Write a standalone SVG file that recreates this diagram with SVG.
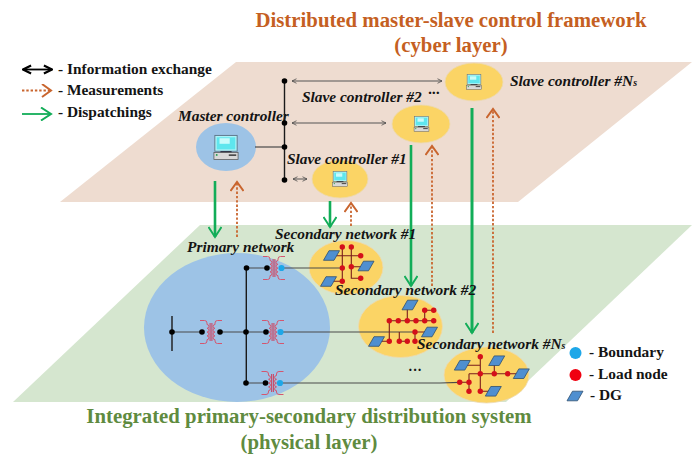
<svg xmlns="http://www.w3.org/2000/svg" width="692" height="455" viewBox="0 0 692 455">
<style>
text{font-family:"Liberation Serif","Times New Roman",serif;font-weight:bold;fill:#141414}
.t1{font-size:20.8px;fill:#c55f22;text-anchor:middle}
.t2{font-size:20.8px;fill:#5f8b3f;text-anchor:middle}
.lg{font-size:15.4px}
.it{font-size:15.4px;font-style:italic}
.wire{stroke:#4a4a4a;stroke-width:1.2;fill:none}
.thin{stroke:#555;stroke-width:1;fill:none}
.bus{stroke:#1a1a1a;stroke-width:1.4;fill:none}
.sw{stroke:#7a1c1c;stroke-width:1.1;fill:none}
.green{stroke:#12ad58;stroke-width:2.6;fill:none;marker-end:url(#ag)}
.orange{stroke:#c9652e;stroke-width:1.8;stroke-dasharray:2.4 1.9;fill:none;marker-end:url(#ao)}
.bd{fill:#000}
.rd{fill:#d4101a}
.bl{fill:#1ea7e8}
.dg{fill:#4f8fd0;stroke:#2f4f70;stroke-width:.8}
.sl{fill:#fbd465;stroke:#ecd9b0;stroke-width:.8}
.tr{stroke:#d4566f;stroke-width:1;fill:none}
.rd circle{r:2.700px}
</style>
<defs>
<marker id="ag" viewBox="0 0 14 14" refX="12" refY="7" markerWidth="14" markerHeight="14" markerUnits="userSpaceOnUse" orient="auto"><path d="M2 .5 12 7 2 13.5" fill="none" stroke="#12ad58" stroke-width="2"/></marker>
<marker id="ao" viewBox="0 0 14 14" refX="12" refY="7" markerWidth="14" markerHeight="14" markerUnits="userSpaceOnUse" orient="auto"><path d="M3 .5 12 7 3 13.5" fill="none" stroke="#c9652e" stroke-width="2"/></marker>
<marker id="ak" viewBox="0 0 8 8" refX="7" refY="4" markerWidth="6" markerHeight="6" orient="auto-start-reverse"><path d="M1 1 7 4 1 7" fill="none" stroke="#000" stroke-width="1.6"/></marker>
<marker id="at" viewBox="0 0 8 8" refX="7" refY="4" markerWidth="6" markerHeight="6" orient="auto-start-reverse"><path d="M1 1 7 4 1 7" fill="none" stroke="#444" stroke-width="1"/></marker>
<symbol id="pc" viewBox="0 0 28 26" overflow="visible">
<rect x="2" y="0" width="24" height="17" fill="#aef3f7" stroke="#5d7488" stroke-width="1"/>
<rect x="4" y="2" width="20" height="13" fill="#5fe6ee"/>
<rect x="7" y="3" width="11" height="6" fill="#c9fbfb"/>
<rect x="8" y="17" width="12" height="1.6" fill="#223"/>
<rect x="1" y="18.500" width="26" height="7.500" fill="#d8d8d8" stroke="#555" stroke-width=".8"/>
<circle cx="4" cy="21" r="1" fill="#1a9a4a"/>
<rect x="17" y="20.500" width="8" height="1.400" fill="#222"/>
</symbol>
<g id="trf">
<path d="M-.9 -9V9M.9 -9V9" stroke="#c94a68" stroke-width="1.100" fill="none"/>
<path class="tr" d="M-11 -11.500H-6.500Q-4 -11.500 -4 -9V-7.500a1.900 1.900 0 0 1 0 3.800a1.900 1.900 0 0 1 0 3.800a1.900 1.900 0 0 1 0 3.800a1.900 1.900 0 0 1 0 3.800V9Q-4 11.500 -6.500 11.500H-11"/>
<path class="tr" d="M11 -11.500H6.500Q4 -11.500 4 -9V-7.500a1.900 1.900 0 0 0 0 3.800a1.900 1.900 0 0 0 0 3.800a1.900 1.900 0 0 0 0 3.800a1.900 1.900 0 0 0 0 3.800V9Q4 11.500 6.500 11.500H11"/>
</g>
<polygon id="dgs" points="-8,4.800 -2.500,-4.800 8,-4.800 2.500,4.800"/>
</defs>

<g id="cyber-layer"><polygon points="236,62 692,62 518,202 60,202" fill="#eedcd0"/></g>
<g id="physical-layer"><polygon points="200,225 692,225 506,402 13,402" fill="#d5e6cf"/></g>

<g id="titles">
<text class="t1" x="451" y="27">Distributed master-slave control framework</text>
<text class="t1" x="451" y="52">(cyber layer)</text>
<text class="t2" x="309" y="423">Integrated primary-secondary distribution system</text>
<text class="t2" x="309" y="449">(physical layer)</text>
</g>

<g id="legend">
<path d="M23 69.500H52" stroke="#000" stroke-width="1.800" fill="none" marker-start="url(#ak)" marker-end="url(#ak)"/>
<text class="lg" x="58" y="74">- Information exchange</text>
<path class="orange" d="M22 90.500H51"/>
<text class="lg" x="58" y="95">- Measurements</text>
<path class="green" style="stroke-width:1.800" d="M22 114H51"/>
<text class="lg" x="58" y="117">- Dispatchings</text>
<circle class="bl" cx="575.500" cy="353" r="6"/>
<text class="lg" x="589" y="357">- Boundary</text>
<circle cx="575.500" cy="375" r="6" fill="#f00010"/>
<text class="lg" x="589" y="379">- Load node</text>
<use href="#dgs" class="dg" x="575" y="396"/>
<text class="lg" x="590" y="400">- DG</text>
</g>

<g id="master-controller">
<ellipse cx="226" cy="147" rx="30" ry="24" fill="#9dc3e6"/>
<use href="#pc" x="213" y="135" width="26" height="25"/>
<text class="it" x="178" y="121">Master controller</text>
</g>
<g id="slave-controller-ns">
<ellipse class="sl" cx="474" cy="82" rx="29" ry="19"/>
<use href="#pc" x="466" y="74.500" width="16" height="15"/>
<text class="it" x="510" y="86">Slave controller #N<tspan font-size="10">s</tspan></text>
</g>
<g id="slave-controller-2">
<ellipse class="sl" cx="421" cy="124" rx="29" ry="19"/>
<use href="#pc" x="413.500" y="116.500" width="16" height="15"/>
<text class="it" x="302" y="102">Slave controller #2</text>
<text class="it" x="428" y="98">···</text>
</g>
<g id="slave-controller-1">
<ellipse class="sl" cx="340" cy="179" rx="28" ry="19"/>
<use href="#pc" x="332" y="171.500" width="16" height="15"/>
<text class="it" x="287" y="164">Slave controller #1</text>
</g>

<g id="connectors">
<path class="bus" d="M284.500 81V180"/>
<path class="wire" d="M255 147H284"/>
<path class="thin" marker-start="url(#at)" marker-end="url(#at)" d="M292 81H442"/>
<path class="thin" marker-start="url(#at)" marker-end="url(#at)" d="M292 123H386"/>
<path class="thin" marker-start="url(#at)" marker-end="url(#at)" d="M293 179H307"/>
<path class="green" d="M215 181V237"/>
<path class="orange" d="M237 237V182"/>
<path class="green" d="M330 201V227"/>
<path class="orange" d="M351 226V203"/>
<path class="green" d="M411 145V286"/>
<path class="orange" d="M432 286V146"/>
<path class="green" style="stroke-width:3" d="M472 108V333"/>
<path class="orange" d="M493 333V109"/>
</g>

<g id="bus-dots">
<circle class="bd" cx="284.500" cy="81" r="2.800"/>
<circle class="bd" cx="284.500" cy="123" r="2.800"/>
<circle class="bd" cx="284.500" cy="147" r="2.800"/>
<circle class="bd" cx="284.500" cy="180" r="2.800"/>
</g>

<g id="primary-network">
<ellipse cx="237" cy="327.500" rx="93" ry="74.500" fill="#9dc3e6"/>
</g>
<g id="secondary-network-1">
<ellipse class="sl" cx="346" cy="267.500" rx="37" ry="27"/>
<path class="wire" d="M284 268H342"/>
<path class="sw" d="M342.300 247V281.300M351.300 247V278.300H360.700M333 255.700H360.700M351.300 266.700H365M328 281.300H342.300"/>
<use href="#dgs" class="dg" x="331.500" y="255.500"/>
<use href="#dgs" class="dg" x="366" y="266"/>
<use href="#dgs" class="dg" x="328.500" y="281.500"/>
<g class="rd"><circle cx="342.300" cy="247" r="2.400"/><circle cx="351.300" cy="247" r="2.400"/><circle cx="360.700" cy="255.700" r="2.400"/><circle cx="342.300" cy="268" r="2.400"/><circle cx="351.300" cy="266.700" r="2.400"/><circle cx="360.700" cy="278.300" r="2.400"/><circle cx="342.300" cy="281.300" r="2.400"/></g>
</g>

<g id="secondary-network-2">
<ellipse class="sl" cx="400.500" cy="326.500" rx="42" ry="31"/>
<path class="wire" d="M283 332H415"/>
<path class="sw" d="M389.300 320.700H433.700M424.700 320.700V310.300H433.700M407.300 320.700V305M389.300 320.700V341.300H376M399.300 332V341.300H407.300M415 332V341.300M415 332H429"/>
<use href="#dgs" class="dg" x="410" y="305"/>
<use href="#dgs" class="dg" x="429.500" y="332"/>
<use href="#dgs" class="dg" x="376.500" y="341.500"/>
<g class="rd"><circle cx="389.300" cy="320.700" r="2.400"/><circle cx="398.300" cy="320.700" r="2.400"/><circle cx="407.300" cy="320.700" r="2.400"/><circle cx="416" cy="320.700" r="2.400"/><circle cx="424.700" cy="320.700" r="2.400"/><circle cx="433.700" cy="320.700" r="2.400"/><circle cx="424.700" cy="310.300" r="2.400"/><circle cx="433.700" cy="310.300" r="2.400"/><circle cx="415" cy="332" r="2.400"/><circle cx="415" cy="341.300" r="2.400"/><circle cx="389.300" cy="341.300" r="2.400"/><circle cx="399.300" cy="341.300" r="2.400"/><circle cx="407.300" cy="341.300" r="2.400"/></g>
</g>

<g id="secondary-network-ns">
<ellipse class="sl" cx="486.500" cy="375" rx="42.500" ry="28"/>
<path class="wire" d="M283 383H440L459.700 382.300"/>
<path class="sw" d="M459.700 382.300H469M480.300 356.700V391.300H493M469 373.700H521M469 373.700V391.300M462 365.300H480.300M494.300 373.700V361"/>
<use href="#dgs" class="dg" x="462.300" y="365.300"/>
<use href="#dgs" class="dg" x="496.700" y="360.700"/>
<use href="#dgs" class="dg" x="521.300" y="373.700"/>
<use href="#dgs" class="dg" x="493.300" y="391.300"/>
<g class="rd"><circle cx="480.300" cy="356.700" r="2.400"/><circle cx="480.300" cy="373.700" r="2.400"/><circle cx="494.300" cy="373.700" r="2.400"/><circle cx="507.700" cy="373.700" r="2.400"/><circle cx="459.700" cy="382.300" r="2.400"/><circle cx="469" cy="382.300" r="2.400"/><circle cx="469" cy="391.300" r="2.400"/><circle cx="480.300" cy="391.300" r="2.400"/></g>
</g>

<g id="primary-network-detail">
<path class="bus" d="M246.300 268V383M172 316V351"/>
<path class="wire" d="M172 332H202M220 332H266M246 268H267M246 383H265.500"/>
<use href="#trf" x="211" y="332"/>
<use href="#trf" x="273" y="332"/>
<use href="#trf" x="274" y="268"/>
<use href="#trf" x="272.500" y="383"/>
<g class="bd">
<circle cx="172" cy="332" r="2.800"/><circle cx="202" cy="332" r="2.800"/><circle cx="220" cy="332" r="2.800"/><circle cx="246" cy="332" r="2.800"/><circle cx="266" cy="332" r="2.800"/>
<circle cx="246.500" cy="268" r="2.800"/><circle cx="267" cy="268" r="2.800"/>
<circle cx="246" cy="383" r="2.800"/><circle cx="265.500" cy="383" r="2.800"/>
</g>
<g class="bl"><circle cx="281.500" cy="268" r="3.100"/><circle cx="280.500" cy="332" r="3.100"/><circle cx="280" cy="383" r="3.100"/></g>
</g>

<g id="network-labels">
<text class="it" x="187" y="252">Primary network</text>
<text class="it" x="275" y="239">Secondary network #1</text>
<text class="it" x="335" y="295">Secondary network #2</text>
<text class="it" x="417" y="349">Secondary network #N<tspan font-size="10">s</tspan></text>
<text x="408" y="375" font-size="14">···</text>
</g>
</svg>
